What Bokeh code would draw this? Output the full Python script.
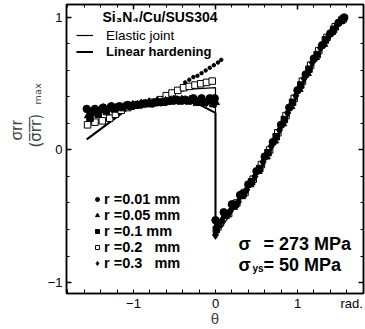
from bokeh.plotting import figure
from bokeh.models import (Label, Legend, LegendItem, LinearAxis, SingleIntervalTicker, FixedTicker,
                          Range1d, Title)
from bokeh.embed import file_html
from bokeh.resources import INLINE

# ---------------- data ----------------
elastic_theta = [-1.57, -1.05, -0.75, -0.50, -0.30, 0.00, 0.00, 0.30, 0.60, 0.90, 1.20, 1.57]
elastic_y = [0.08, 0.32, 0.38, 0.43, 0.46, 0.47, -0.65, -0.38, -0.07, 0.30, 0.68, 1.00]
hardening_theta = [-1.57, -1.05, -0.70, -0.45, -0.22, 0.00, 0.00, 0.30, 0.60, 0.90, 1.20, 1.57]
hardening_y = [0.08, 0.32, 0.36, 0.37, 0.35, 0.28, -0.60, -0.36, -0.06, 0.31, 0.68, 1.00]

r001_theta = [-1.57, -1.47, -1.37, -1.27, -1.17, -1.07, -0.97, -0.87, -0.77, -0.67, -0.57, -0.47, -0.37, -0.27, -0.17, -0.07, -0.01,
              0.00, 0.10, 0.20, 0.30, 0.40, 0.50, 0.60, 0.70, 0.80, 0.90, 1.00, 1.10, 1.20, 1.30, 1.40, 1.50, 1.57]
r001_y = [0.31, 0.31, 0.32, 0.33, 0.33, 0.34, 0.34, 0.35, 0.35, 0.36, 0.37, 0.38, 0.38, 0.39, 0.39, 0.39, 0.39,
          -0.53, -0.47, -0.41, -0.34, -0.26, -0.16, -0.05, 0.06, 0.19, 0.32, 0.45, 0.57, 0.69, 0.79, 0.88, 0.96, 1.00]

r005_theta = [-1.55, -1.45, -1.35, -1.25, -1.15, -1.05, -0.95, -0.85, -0.75, -0.65, -0.55, -0.45, -0.35, -0.25, -0.15, -0.05, 0.00,
              0.02, 0.12, 0.22, 0.32, 0.42, 0.52, 0.62, 0.72, 0.82, 0.92, 1.02, 1.12, 1.22, 1.32, 1.42, 1.52]
r005_y = [0.26, 0.28, 0.30, 0.31, 0.32, 0.33, 0.34, 0.35, 0.35, 0.36, 0.37, 0.37, 0.37, 0.37, 0.37, 0.37, 0.36,
          -0.57, -0.50, -0.43, -0.35, -0.26, -0.16, -0.05, 0.07, 0.20, 0.33, 0.46, 0.58, 0.70, 0.80, 0.89, 0.97]

r01_theta = [-1.53, -1.43, -1.33, -1.23, -1.13, -1.03, -0.93, -0.83, -0.73, -0.63, -0.53, -0.43, -0.33, -0.23, -0.13, -0.03,
             0.01, 0.04, 0.14, 0.24, 0.34, 0.44, 0.54, 0.64, 0.74, 0.84, 0.94, 1.04, 1.14, 1.24, 1.34, 1.44, 1.54]
r01_y = [0.24, 0.27, 0.29, 0.31, 0.32, 0.33, 0.34, 0.35, 0.36, 0.36, 0.37, 0.37, 0.37, 0.36, 0.36, 0.35,
         -0.60, -0.56, -0.48, -0.41, -0.33, -0.24, -0.14, -0.02, 0.10, 0.23, 0.36, 0.49, 0.61, 0.72, 0.83, 0.91, 0.98]

r02_theta = [-1.56, -1.47, -1.38, -1.29, -1.22, -1.15, -1.07, -0.97, -0.87, -0.77, -0.67, -0.60, -0.53, -0.46, -0.39, -0.32, -0.25, -0.18, -0.11, -0.04,
             0.03, 0.06, 0.16, 0.26, 0.36, 0.46, 0.56, 0.66, 0.76, 0.86, 0.96, 1.06, 1.16, 1.26, 1.36, 1.46, 1.56]
r02_y = [0.19, 0.21, 0.22, 0.24, 0.27, 0.30, 0.32, 0.34, 0.35, 0.36, 0.38, 0.41, 0.43, 0.45, 0.47, 0.48, 0.49, 0.50, 0.51, 0.52,
         -0.58, -0.55, -0.48, -0.40, -0.32, -0.22, -0.11, 0.00, 0.13, 0.26, 0.39, 0.52, 0.64, 0.75, 0.85, 0.93, 0.99]

r03_theta = [-1.51, -1.41, -1.31, -1.21, -1.11, -1.01, -0.91, -0.81, -0.71, -0.61, -0.51, -0.41, -0.31, -0.21, -0.11, -0.02,
             0.00, 0.08, 0.18, 0.28, 0.38, 0.48, 0.58, 0.68, 0.78, 0.88, 0.98, 1.08, 1.18, 1.28, 1.38, 1.48]
r03_y = [0.29, 0.30, 0.31, 0.32, 0.33, 0.34, 0.35, 0.36, 0.37, 0.37, 0.38, 0.38, 0.38, 0.37, 0.36, 0.35,
         -0.64, -0.53, -0.46, -0.39, -0.30, -0.20, -0.09, 0.03, 0.15, 0.28, 0.41, 0.54, 0.66, 0.77, 0.86, 0.94]

dotted_theta = [-0.37, -0.32, -0.27, -0.22, -0.17, -0.12, -0.07, -0.02, 0.03, 0.07]
dotted_y = [0.51, 0.53, 0.55, 0.56, 0.58, 0.60, 0.62, 0.64, 0.66, 0.68]

series_labels = ["r =0.01 mm", "r =0.05 mm", "r =0.1 mm", "r =0.2   mm", "r =0.3   mm"]
x_tick_values = [-1, 0, 1, 1.66]
x_tick_labels = {-1: "\u22121", 0: "0", 1: "1", 1.66: "rad."}
y_tick_labels = {-1: "\u22121", 0: "0", 1: "1"}
minor_tick_values = [-1.8, -1.6, -1.4, -1.2, -1.0, -0.8, -0.6, -0.4, -0.2, 0.0, 0.2, 0.4, 0.6, 0.8, 1.0, 1.2, 1.4, 1.6, 1.8]

FONT = "Liberation Sans"

# ---------------- figure ----------------
p = figure(width=365, height=329, x_range=Range1d(-1.817, 1.805), y_range=Range1d(-1.083, 1.098),
           output_backend="svg", toolbar_location=None,
           min_border_left=66, min_border_right=2, min_border_top=4, min_border_bottom=36)
p.grid.visible = False
p.outline_line_color = "black"
p.outline_line_width = 1.5
p.background_fill_color = "white"


def style_axis(ax, labels):
    ax.major_tick_in = 5
    ax.major_tick_out = 0
    ax.minor_tick_in = 3
    ax.minor_tick_out = 0
    ax.axis_line_width = 1.5
    ax.major_tick_line_width = 1.5
    ax.minor_tick_line_width = 1
    ax.axis_line_color = "black"
    ax.major_tick_line_color = "black"
    ax.minor_tick_line_color = "black"
    if labels is not None:
        ax.major_label_overrides = labels
        ax.major_label_text_font = FONT
        ax.major_label_text_font_size = "13px"
        ax.major_label_text_color = "black"
        ax.major_label_standoff = 4
    else:
        ax.major_label_text_font_size = "1px"
        ax.major_label_text_color = None
        ax.major_label_standoff = 0


# bottom axis: ticks at -1, 0, 1 drawn as minor ticks, "rad." written as a tick label
xax = p.xaxis[0]
xax.ticker = FixedTicker(ticks=x_tick_values, minor_ticks=minor_tick_values)
style_axis(xax, x_tick_labels)
xax.major_tick_in = 0
xax.minor_tick_in = 4
xax.major_label_standoff = 2
xax.axis_label = "\u03b8"
xax.axis_label_text_font = FONT
xax.axis_label_text_font_size = "15px"
xax.axis_label_text_font_style = "normal"
xax.axis_label_standoff = -4

yax = p.yaxis[0]
yax.ticker = SingleIntervalTicker(interval=1, num_minor_ticks=5)
style_axis(yax, y_tick_labels)

top = LinearAxis(ticker=SingleIntervalTicker(interval=1, num_minor_ticks=5))
right = LinearAxis(ticker=SingleIntervalTicker(interval=1, num_minor_ticks=5))
style_axis(top, None)
style_axis(right, None)
p.add_layout(top, "above")
p.add_layout(right, "right")

# y-axis label: fraction built from two titles on the left side
p.add_layout(Title(text="(\u03c3\u0305r\u0305r\u0305)\u00a0\u00a0\u2098\u2090\u2093", align="left", offset=146, standoff=0,
                   text_font="DejaVu Sans", text_font_size="15px", text_font_style="normal"), "left")
p.add_layout(Title(text="\u03c3rr", align="left", offset=153, standoff=0,
                   text_font=FONT, text_font_size="16px", text_font_style="normal"), "left")

# ---------------- lines ----------------
r_el = p.line(elastic_theta, elastic_y, line_color="black", line_width=1.2)
r_lh = p.line(hardening_theta, hardening_y, line_color="black", line_width=2)

# ---------------- markers ----------------
r_r02 = p.scatter(r02_theta, r02_y, marker="square", size=6.5, fill_color="white", line_color="black", line_width=1)
r_r001 = p.scatter(r001_theta, r001_y, marker="circle", size=7.5, color="black")
r_r005 = p.scatter(r005_theta, r005_y, marker="triangle", size=8, color="black")
r_r01 = p.scatter(r01_theta, r01_y, marker="square", size=6.5, color="black")
r_r03 = p.scatter(r03_theta, r03_y, marker="diamond", size=9, color="black")
p.scatter(dotted_theta, dotted_y, marker="circle", size=3.5, color="black")

# ---------------- legends ----------------
def make_legend(items, loc, font_size, bold, gw, gh, standoff):
    lg = Legend(items=items, location=loc, border_line_color=None, background_fill_alpha=0,
                padding=0, margin=0, spacing=0, glyph_width=gw, glyph_height=gh, label_height=gh,
                label_standoff=standoff, label_text_font=FONT, label_text_font_size=font_size,
                label_text_font_style="bold" if bold else "normal", label_text_color="black")
    p.add_layout(lg)
    return lg


make_legend([LegendItem(label="Elastic joint", renderers=[r_el])], (10, 250), "13.5px", False, 17, 16, 13)
make_legend([LegendItem(label="Linear hardening", renderers=[r_lh])], (10, 234), "13px", True, 17, 15, 13)
make_legend([LegendItem(label=series_labels[0], renderers=[r_r001]),
             LegendItem(label=series_labels[1], renderers=[r_r005]),
             LegendItem(label=series_labels[2], renderers=[r_r01]),
             LegendItem(label=series_labels[3], renderers=[r_r02]),
             LegendItem(label=series_labels[4], renderers=[r_r03])],
            (26, 22), "14.5px", True, 10, 16, 2)

# ---------------- text annotations inside the frame (screen units from the frame's bottom-left) ----------------
def add_label(x, y, text, size, bold=False, align="left", baseline="middle", font=FONT):
    p.add_layout(Label(x=x, y=y, x_units="screen", y_units="screen", text=text, text_font=font,
                       text_font_size=size, text_font_style="bold" if bold else "normal",
                       text_align=align, text_baseline=baseline, text_color="black"))


add_label(36, 277, "Si\u2083N\u2084/Cu/SUS304", "14px", bold=True)
add_label(172, 50, "\u03c3", "18px", bold=True)
add_label(197, 50, "= 273 MPa", "18px", bold=True)
add_label(172, 29, "\u03c3", "18px", bold=True)
add_label(186, 25, "ys", "10px", bold=True)
add_label(197, 29, "= 50 MPa", "18px", bold=True)

open("out.html", "w").write(file_html(p, INLINE))
